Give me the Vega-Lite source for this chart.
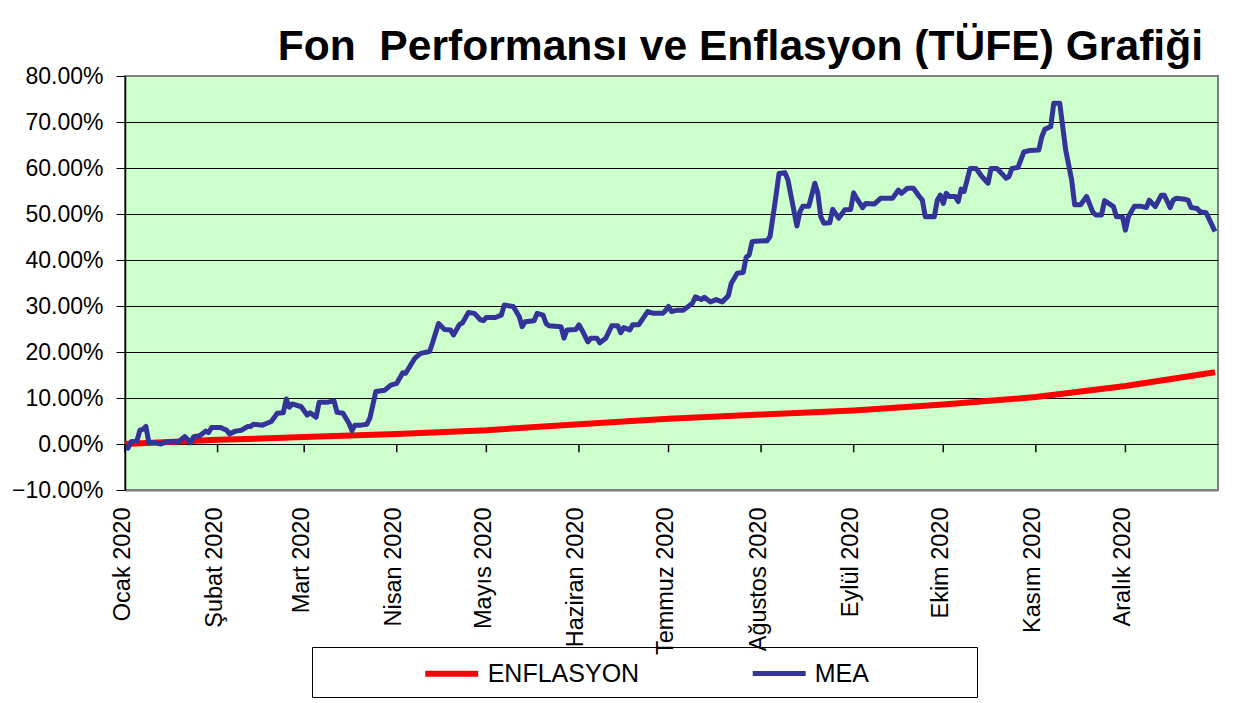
{
"$schema": "https://vega.github.io/schema/vega-lite/v6.json",
"width": 1093, "height": 414,
"autosize": "none",
"padding": {"left": 125, "top": 76, "right": 40, "bottom": 213},
"background": "white",
"config": {"view": {"fill": "#CCFFCC", "stroke": "#808080", "strokeWidth": 2}, "font": "Liberation Sans"},
"title": {"text": "Fon \u00a0Performansı ve Enflasyon (TÜFE) Grafiği", "anchor": "end", "frame": "group", "fontSize": 42.6, "font": "Liberation Sans", "fontWeight": "bold", "color": "black", "baseline": "alphabetic", "offset": 14, "dx": -15, "dy": 52},
"encoding": {
  "x": {"field": "date", "type": "temporal",
    "scale": {"type": "utc", "domain": [{"year": 2020, "month": 1, "date": 1, "utc": true}, {"year": 2021, "month": 1, "date": 1, "utc": true}]},
    "axis": {"title": null, "values": [{"year":2020,"month":1,"date":1,"utc":true},{"year":2020,"month":2,"date":1,"utc":true},{"year":2020,"month":3,"date":1,"utc":true},{"year":2020,"month":4,"date":1,"utc":true},{"year":2020,"month":5,"date":1,"utc":true},{"year":2020,"month":6,"date":1,"utc":true},{"year":2020,"month":7,"date":1,"utc":true},{"year":2020,"month":8,"date":1,"utc":true},{"year":2020,"month":9,"date":1,"utc":true},{"year":2020,"month":10,"date":1,"utc":true},{"year":2020,"month":11,"date":1,"utc":true},{"year":2020,"month":12,"date":1,"utc":true}],
      "labelExpr": "['Ocak','Şubat','Mart','Nisan','Mayıs','Haziran','Temmuz','Ağustos','Eylül','Ekim','Kasım','Aralık'][utcmonth(datum.value)] + ' 2020'",
      "labelAngle": 270, "labelFontSize": 23.5, "labelFont": "Liberation Sans", "labelColor": "black", "labelPadding": 17, "labelOffset": -3, "ticks": false, "grid": false, "domainColor": "#808080", "domainWidth": 2, "labelOverlap": false, "labelFlush": false, "labelBound": false}}
},
"layer": [
{
  "data": {"values": [
{"date":"2020-01-01","series":"ENFLASYON","value":0},
{"date":"2020-02-01","series":"ENFLASYON","value":0.9},
{"date":"2020-03-01","series":"ENFLASYON","value":1.5},
{"date":"2020-04-01","series":"ENFLASYON","value":2.2},
{"date":"2020-05-01","series":"ENFLASYON","value":3.0},
{"date":"2020-06-01","series":"ENFLASYON","value":4.3},
{"date":"2020-07-01","series":"ENFLASYON","value":5.5},
{"date":"2020-08-01","series":"ENFLASYON","value":6.4},
{"date":"2020-09-01","series":"ENFLASYON","value":7.3},
{"date":"2020-10-01","series":"ENFLASYON","value":8.6},
{"date":"2020-11-01","series":"ENFLASYON","value":10.2},
{"date":"2020-12-01","series":"ENFLASYON","value":12.6},
{"date":"2020-12-31","series":"ENFLASYON","value":15.6},
{"date":"2020-01-01","series":"MEA","value":-0.5},
{"date":"2020-01-02","series":"MEA","value":-0.9},
{"date":"2020-01-03","series":"MEA","value":0.5},
{"date":"2020-01-05","series":"MEA","value":0.7},
{"date":"2020-01-06","series":"MEA","value":3.0},
{"date":"2020-01-07","series":"MEA","value":3.2},
{"date":"2020-01-08","series":"MEA","value":3.8},
{"date":"2020-01-09","series":"MEA","value":0.3},
{"date":"2020-01-11","series":"MEA","value":0.3},
{"date":"2020-01-13","series":"MEA","value":0.0},
{"date":"2020-01-14","series":"MEA","value":0.3},
{"date":"2020-01-16","series":"MEA","value":0.5},
{"date":"2020-01-19","series":"MEA","value":0.5},
{"date":"2020-01-21","series":"MEA","value":1.6},
{"date":"2020-01-23","series":"MEA","value":0.3},
{"date":"2020-01-24","series":"MEA","value":1.6},
{"date":"2020-01-26","series":"MEA","value":1.8},
{"date":"2020-01-28","series":"MEA","value":2.8},
{"date":"2020-01-29","series":"MEA","value":2.5},
{"date":"2020-01-30","series":"MEA","value":3.6},
{"date":"2020-02-02","series":"MEA","value":3.6},
{"date":"2020-02-04","series":"MEA","value":3.0},
{"date":"2020-02-05","series":"MEA","value":2.2},
{"date":"2020-02-07","series":"MEA","value":2.8},
{"date":"2020-02-09","series":"MEA","value":3.0},
{"date":"2020-02-11","series":"MEA","value":3.8},
{"date":"2020-02-12","series":"MEA","value":3.8},
{"date":"2020-02-13","series":"MEA","value":4.3},
{"date":"2020-02-16","series":"MEA","value":4.1},
{"date":"2020-02-19","series":"MEA","value":4.9},
{"date":"2020-02-21","series":"MEA","value":6.7},
{"date":"2020-02-23","series":"MEA","value":6.8},
{"date":"2020-02-24","series":"MEA","value":9.8},
{"date":"2020-02-25","series":"MEA","value":8.0},
{"date":"2020-02-26","series":"MEA","value":8.7},
{"date":"2020-02-29","series":"MEA","value":8.1},
{"date":"2020-03-02","series":"MEA","value":6.3},
{"date":"2020-03-03","series":"MEA","value":6.8},
{"date":"2020-03-05","series":"MEA","value":5.8},
{"date":"2020-03-06","series":"MEA","value":9.1},
{"date":"2020-03-09","series":"MEA","value":9.1},
{"date":"2020-03-11","series":"MEA","value":9.4},
{"date":"2020-03-12","series":"MEA","value":6.9},
{"date":"2020-03-14","series":"MEA","value":6.7},
{"date":"2020-03-16","series":"MEA","value":4.5},
{"date":"2020-03-17","series":"MEA","value":2.9},
{"date":"2020-03-18","series":"MEA","value":4.1},
{"date":"2020-03-20","series":"MEA","value":4.1},
{"date":"2020-03-22","series":"MEA","value":4.3},
{"date":"2020-03-23","series":"MEA","value":5.6},
{"date":"2020-03-25","series":"MEA","value":11.4},
{"date":"2020-03-28","series":"MEA","value":11.7},
{"date":"2020-03-30","series":"MEA","value":12.8},
{"date":"2020-04-01","series":"MEA","value":13.2},
{"date":"2020-04-03","series":"MEA","value":15.5},
{"date":"2020-04-04","series":"MEA","value":15.4},
{"date":"2020-04-07","series":"MEA","value":18.6},
{"date":"2020-04-09","series":"MEA","value":19.7},
{"date":"2020-04-12","series":"MEA","value":20.1},
{"date":"2020-04-13","series":"MEA","value":22.0},
{"date":"2020-04-15","series":"MEA","value":26.2},
{"date":"2020-04-17","series":"MEA","value":24.9},
{"date":"2020-04-19","series":"MEA","value":24.8},
{"date":"2020-04-20","series":"MEA","value":23.7},
{"date":"2020-04-22","series":"MEA","value":26.0},
{"date":"2020-04-23","series":"MEA","value":26.3},
{"date":"2020-04-25","series":"MEA","value":28.6},
{"date":"2020-04-27","series":"MEA","value":28.4},
{"date":"2020-04-29","series":"MEA","value":27.0},
{"date":"2020-04-30","series":"MEA","value":26.8},
{"date":"2020-05-01","series":"MEA","value":27.5},
{"date":"2020-05-04","series":"MEA","value":27.5},
{"date":"2020-05-06","series":"MEA","value":28.0},
{"date":"2020-05-07","series":"MEA","value":30.2},
{"date":"2020-05-10","series":"MEA","value":29.9},
{"date":"2020-05-12","series":"MEA","value":27.7},
{"date":"2020-05-13","series":"MEA","value":25.5},
{"date":"2020-05-14","series":"MEA","value":26.6},
{"date":"2020-05-17","series":"MEA","value":26.8},
{"date":"2020-05-18","series":"MEA","value":28.4},
{"date":"2020-05-20","series":"MEA","value":28.0},
{"date":"2020-05-21","series":"MEA","value":26.2},
{"date":"2020-05-22","series":"MEA","value":25.7},
{"date":"2020-05-26","series":"MEA","value":25.5},
{"date":"2020-05-27","series":"MEA","value":23.0},
{"date":"2020-05-28","series":"MEA","value":24.8},
{"date":"2020-05-31","series":"MEA","value":24.9},
{"date":"2020-06-01","series":"MEA","value":25.9},
{"date":"2020-06-02","series":"MEA","value":24.8},
{"date":"2020-06-04","series":"MEA","value":22.2},
{"date":"2020-06-05","series":"MEA","value":23.0},
{"date":"2020-06-07","series":"MEA","value":23.0},
{"date":"2020-06-08","series":"MEA","value":22.0},
{"date":"2020-06-10","series":"MEA","value":23.0},
{"date":"2020-06-12","series":"MEA","value":25.7},
{"date":"2020-06-14","series":"MEA","value":25.7},
{"date":"2020-06-15","series":"MEA","value":24.2},
{"date":"2020-06-16","series":"MEA","value":25.3},
{"date":"2020-06-18","series":"MEA","value":24.8},
{"date":"2020-06-19","series":"MEA","value":25.9},
{"date":"2020-06-21","series":"MEA","value":25.9},
{"date":"2020-06-24","series":"MEA","value":28.8},
{"date":"2020-06-26","series":"MEA","value":28.4},
{"date":"2020-06-29","series":"MEA","value":28.4},
{"date":"2020-06-30","series":"MEA","value":29.0},
{"date":"2020-07-01","series":"MEA","value":29.9},
{"date":"2020-07-02","series":"MEA","value":28.8},
{"date":"2020-07-04","series":"MEA","value":29.1},
{"date":"2020-07-06","series":"MEA","value":29.1},
{"date":"2020-07-09","series":"MEA","value":30.6},
{"date":"2020-07-10","series":"MEA","value":32.0},
{"date":"2020-07-12","series":"MEA","value":31.4},
{"date":"2020-07-13","series":"MEA","value":31.9},
{"date":"2020-07-15","series":"MEA","value":30.9},
{"date":"2020-07-17","series":"MEA","value":31.4},
{"date":"2020-07-19","series":"MEA","value":30.9},
{"date":"2020-07-21","series":"MEA","value":32.2},
{"date":"2020-07-22","series":"MEA","value":34.9},
{"date":"2020-07-24","series":"MEA","value":37.1},
{"date":"2020-07-26","series":"MEA","value":37.3},
{"date":"2020-07-27","series":"MEA","value":40.6},
{"date":"2020-07-28","series":"MEA","value":41.1},
{"date":"2020-07-29","series":"MEA","value":44.0},
{"date":"2020-07-30","series":"MEA","value":44.1},
{"date":"2020-08-03","series":"MEA","value":44.2},
{"date":"2020-08-04","series":"MEA","value":45.1},
{"date":"2020-08-06","series":"MEA","value":54.0},
{"date":"2020-08-07","series":"MEA","value":58.8},
{"date":"2020-08-09","series":"MEA","value":59.0},
{"date":"2020-08-10","series":"MEA","value":57.4},
{"date":"2020-08-11","series":"MEA","value":54.0},
{"date":"2020-08-13","series":"MEA","value":47.4},
{"date":"2020-08-14","series":"MEA","value":50.5},
{"date":"2020-08-15","series":"MEA","value":51.7},
{"date":"2020-08-17","series":"MEA","value":51.7},
{"date":"2020-08-19","series":"MEA","value":56.7},
{"date":"2020-08-20","series":"MEA","value":54.5},
{"date":"2020-08-21","series":"MEA","value":49.4},
{"date":"2020-08-22","series":"MEA","value":48.0},
{"date":"2020-08-24","series":"MEA","value":48.1},
{"date":"2020-08-25","series":"MEA","value":51.0},
{"date":"2020-08-27","series":"MEA","value":49.1},
{"date":"2020-08-29","series":"MEA","value":50.9},
{"date":"2020-08-31","series":"MEA","value":51.0},
{"date":"2020-09-01","series":"MEA","value":54.6},
{"date":"2020-09-02","series":"MEA","value":53.4},
{"date":"2020-09-04","series":"MEA","value":51.4},
{"date":"2020-09-05","series":"MEA","value":52.3},
{"date":"2020-09-08","series":"MEA","value":52.2},
{"date":"2020-09-10","series":"MEA","value":53.4},
{"date":"2020-09-14","series":"MEA","value":53.4},
{"date":"2020-09-16","series":"MEA","value":55.2},
{"date":"2020-09-17","series":"MEA","value":54.5},
{"date":"2020-09-19","series":"MEA","value":55.6},
{"date":"2020-09-21","series":"MEA","value":55.6},
{"date":"2020-09-23","series":"MEA","value":53.8},
{"date":"2020-09-24","series":"MEA","value":53.0},
{"date":"2020-09-25","series":"MEA","value":49.4},
{"date":"2020-09-28","series":"MEA","value":49.4},
{"date":"2020-09-29","series":"MEA","value":53.0},
{"date":"2020-09-30","series":"MEA","value":54.1},
{"date":"2020-10-01","series":"MEA","value":52.3},
{"date":"2020-10-02","series":"MEA","value":54.5},
{"date":"2020-10-03","series":"MEA","value":53.8},
{"date":"2020-10-05","series":"MEA","value":53.8},
{"date":"2020-10-06","series":"MEA","value":52.7},
{"date":"2020-10-07","series":"MEA","value":55.4},
{"date":"2020-10-08","series":"MEA","value":54.9},
{"date":"2020-10-10","series":"MEA","value":59.9},
{"date":"2020-10-12","series":"MEA","value":59.9},
{"date":"2020-10-14","series":"MEA","value":58.1},
{"date":"2020-10-16","series":"MEA","value":56.7},
{"date":"2020-10-17","series":"MEA","value":59.9},
{"date":"2020-10-19","series":"MEA","value":59.9},
{"date":"2020-10-21","series":"MEA","value":58.5},
{"date":"2020-10-22","series":"MEA","value":57.8},
{"date":"2020-10-23","series":"MEA","value":58.1},
{"date":"2020-10-24","series":"MEA","value":59.9},
{"date":"2020-10-26","series":"MEA","value":60.1},
{"date":"2020-10-28","series":"MEA","value":63.5},
{"date":"2020-10-30","series":"MEA","value":63.8},
{"date":"2020-11-02","series":"MEA","value":63.9},
{"date":"2020-11-03","series":"MEA","value":66.8},
{"date":"2020-11-04","series":"MEA","value":68.4},
{"date":"2020-11-06","series":"MEA","value":69.0},
{"date":"2020-11-07","series":"MEA","value":74.1},
{"date":"2020-11-09","series":"MEA","value":74.1},
{"date":"2020-11-10","series":"MEA","value":69.0},
{"date":"2020-11-11","series":"MEA","value":63.9},
{"date":"2020-11-13","series":"MEA","value":57.4},
{"date":"2020-11-14","series":"MEA","value":52.0},
{"date":"2020-11-16","series":"MEA","value":52.0},
{"date":"2020-11-18","series":"MEA","value":53.8},
{"date":"2020-11-20","series":"MEA","value":50.5},
{"date":"2020-11-21","series":"MEA","value":49.8},
{"date":"2020-11-23","series":"MEA","value":49.8},
{"date":"2020-11-24","series":"MEA","value":52.9},
{"date":"2020-11-27","series":"MEA","value":51.6},
{"date":"2020-11-28","series":"MEA","value":49.4},
{"date":"2020-11-30","series":"MEA","value":49.4},
{"date":"2020-12-01","series":"MEA","value":46.5},
{"date":"2020-12-02","series":"MEA","value":49.4},
{"date":"2020-12-04","series":"MEA","value":51.7},
{"date":"2020-12-06","series":"MEA","value":51.7},
{"date":"2020-12-08","series":"MEA","value":51.4},
{"date":"2020-12-09","series":"MEA","value":53.0},
{"date":"2020-12-11","series":"MEA","value":51.6},
{"date":"2020-12-13","series":"MEA","value":54.1},
{"date":"2020-12-14","series":"MEA","value":54.1},
{"date":"2020-12-16","series":"MEA","value":51.4},
{"date":"2020-12-17","series":"MEA","value":53.0},
{"date":"2020-12-18","series":"MEA","value":53.4},
{"date":"2020-12-21","series":"MEA","value":53.2},
{"date":"2020-12-22","series":"MEA","value":53.0},
{"date":"2020-12-23","series":"MEA","value":51.4},
{"date":"2020-12-25","series":"MEA","value":51.2},
{"date":"2020-12-26","series":"MEA","value":50.5},
{"date":"2020-12-28","series":"MEA","value":50.3},
{"date":"2020-12-31","series":"MEA","value":46.2}
  ]},
  "mark": {"type": "line", "strokeJoin": "round"},
  "encoding": {
    "y": {"field": "value", "type": "quantitative", "scale": {"domain": [-10, 80], "nice": false, "zero": false},
      "axis": {"title": null, "values": [-10,0,10,20,30,40,50,60,70,80], "labelExpr": "format(datum.value, '.2f') + '%'", "labelFontSize": 23, "labelFont": "Liberation Sans", "labelColor": "black", "labelPadding": 13, "tickSize": 9, "tickColor": "black", "tickWidth": 1, "domainColor": "black", "domainWidth": 1.5, "grid": true, "gridColor": "black", "gridWidth": 1, "gridOpacity": {"condition": {"test": "datum.value == 80 || datum.value == -10", "value": 0}, "value": 1}}},
    "color": {"field": "series", "type": "nominal",
      "scale": {"domain": ["ENFLASYON", "MEA"], "range": ["#FF0000", "#333399"]},
      "legend": {"orient": "none", "legendX": 187, "legendY": 571, "direction": "horizontal", "title": "\u00a0", "titleOrient": "left", "titleFontSize": 1, "titlePadding": 100, "strokeColor": "black", "padding": 10, "symbolType": "M-2,0H2", "symbolSize": 700, "symbolOffset": 13.2, "symbolStrokeWidth": 5, "labelFontSize": 25, "labelFont": "Liberation Sans", "labelColor": "black", "labelOffset": 19.5, "columnPadding": 102, "labelLimit": 400,
        "labelExpr": "datum.label == 'MEA' ? 'MEA\u00a0\u00a0\u00a0\u00a0\u00a0\u00a0\u00a0\u00a0\u00a0\u00a0\u00a0\u00a0\u00a0\u00a0\u200b' : datum.label"}},
    "strokeWidth": {"field": "series", "type": "nominal", "scale": {"domain": ["ENFLASYON", "MEA"], "range": [6, 5]}, "legend": null}
  }
},
{
  "data": {"values": [
{"date":"2020-01-01"},{"date":"2020-02-01"},{"date":"2020-03-01"},{"date":"2020-04-01"},{"date":"2020-05-01"},{"date":"2020-06-01"},{"date":"2020-07-01"},{"date":"2020-08-01"},{"date":"2020-09-01"},{"date":"2020-10-01"},{"date":"2020-11-01"},{"date":"2020-12-01"}
  ]},
  "mark": {"type": "rule", "color": "black", "strokeWidth": 1.5},
  "encoding": {
    "y": {"datum": 0, "type": "quantitative", "axis": {"title": null, "values": [-10,0,10,20,30,40,50,60,70,80], "labelExpr": "format(datum.value, '.2f') + '%'", "labelFontSize": 23, "labelFont": "Liberation Sans", "labelColor": "black", "labelPadding": 13, "tickSize": 9, "tickColor": "black", "tickWidth": 1, "domainColor": "black", "domainWidth": 1.5, "grid": true, "gridColor": "black", "gridWidth": 1, "gridOpacity": {"condition": {"test": "datum.value == 80 || datum.value == -10", "value": 0}, "value": 1}}},
    "y2": {"datum": -1.8}
  }
}
]
}
